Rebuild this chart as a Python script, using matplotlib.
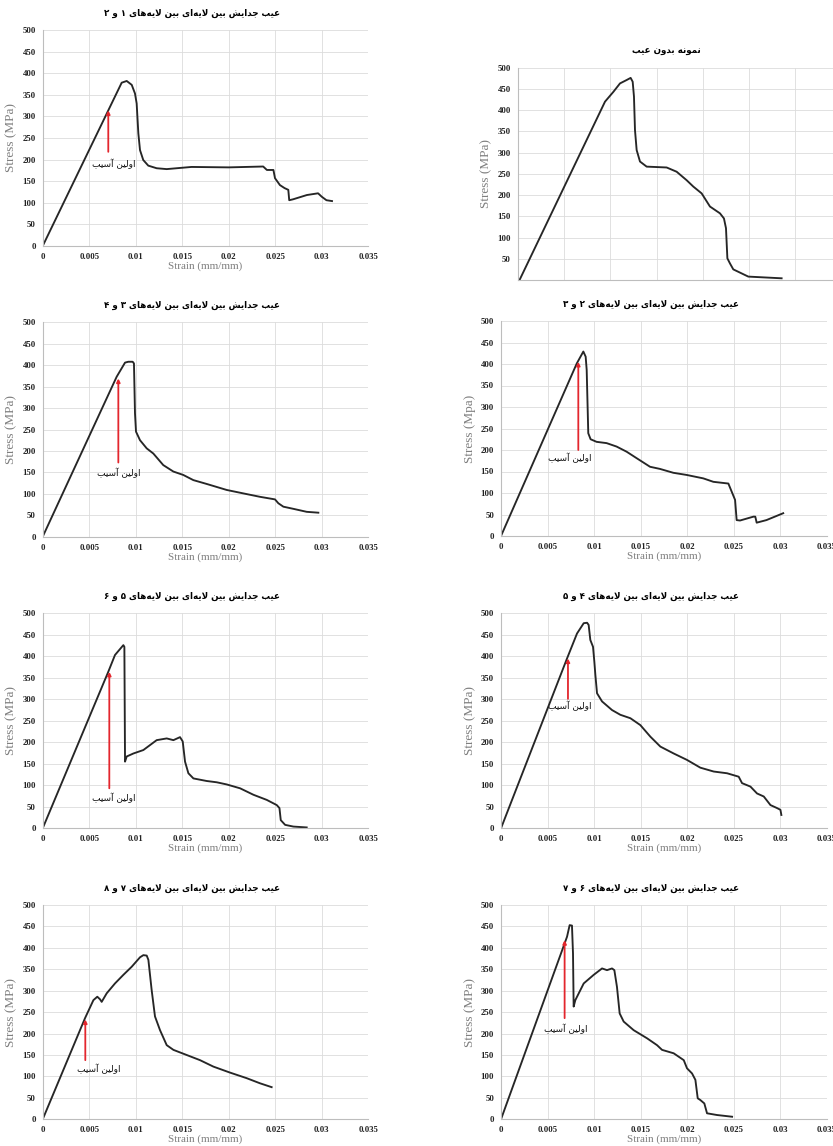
import matplotlib
matplotlib.use("Agg")
import matplotlib.pyplot as plt

plt.rcParams['font.family'] = ['Liberation Serif', 'DejaVu Sans']

# stress-strain curves, strain in mm/mm, stress in MPa
strain_12 = [0, 0.00849, 0.00903, 0.00957, 0.00992, 0.0101, 0.01028, 0.01046, 0.01081, 0.01135,
             0.01225, 0.01333, 0.0160, 0.0200, 0.0237, 0.0241, 0.0248, 0.02497, 0.0255, 0.0260,
             0.0264, 0.0265, 0.0269, 0.0284, 0.0296, 0.0300, 0.0305, 0.0311]
stress_12 = [0, 378, 382, 373, 353, 330, 261, 222, 199, 186,
             180, 178, 183, 182, 184, 176, 176, 157, 141, 134,
             130, 106, 108, 118, 122, 114, 106, 104]

strain_ok = [0.0002, 0.00943, 0.01033, 0.01105, 0.01177, 0.0122, 0.01242, 0.01256, 0.01267, 0.01285,
             0.01321, 0.01393, 0.01609, 0.01717, 0.01825, 0.01897, 0.01987, 0.02077, 0.02185, 0.02228,
             0.0225, 0.02265, 0.02293, 0.02329, 0.02491, 0.02851]
stress_ok = [0, 420, 443, 463, 471, 476, 467, 432, 353, 306,
             279, 267, 265, 255, 235, 220, 204, 173, 157, 145,
             122, 51, 39, 25, 8, 4]

strain_34 = [0, 0.00795, 0.00885, 0.0092, 0.00967, 0.00981, 0.00992, 0.01003, 0.01046, 0.01118,
             0.01189, 0.01296, 0.01404, 0.01511, 0.01619, 0.01763, 0.01978, 0.02156, 0.02336, 0.02497,
             0.02533, 0.02587, 0.02694, 0.02838, 0.02963]
stress_34 = [0, 373, 406, 408, 408, 404, 288, 245, 225, 206,
             194, 167, 152, 144, 132, 123, 109, 101, 93, 87,
             78, 70, 65, 58, 56]

strain_23 = [0, 0.00813, 0.00884, 0.00909, 0.0092, 0.00937, 0.00962, 0.01026, 0.01134, 0.01241,
             0.01349, 0.01456, 0.0160, 0.01707, 0.0185, 0.01993, 0.02172, 0.0228, 0.02441, 0.02477,
             0.02513, 0.0253, 0.02566, 0.0271, 0.0273, 0.02745, 0.0285, 0.0303]
stress_23 = [0, 401, 429, 417, 386, 239, 225, 219, 216, 208,
             196, 181, 161, 156, 147, 142, 134, 126, 122, 103,
             84, 37, 36, 45, 45, 31, 37, 53]

strain_56 = [0, 0.00705, 0.00777, 0.00867, 0.00878, 0.00885, 0.00903, 0.00975, 0.01082, 0.01225,
             0.01333, 0.01405, 0.01476, 0.01505, 0.0153, 0.01566, 0.0162, 0.01763, 0.01871, 0.01978,
             0.02122, 0.02265, 0.02409, 0.02516, 0.02545, 0.02559, 0.02606, 0.02695, 0.02838]
stress_56 = [0, 364, 403, 426, 422, 155, 167, 174, 182, 205,
             209, 205, 212, 202, 155, 128, 116, 110, 107, 102,
             93, 78, 66, 54, 47, 19, 8, 4, 2]

strain_45 = [0, 0.00709, 0.00816, 0.00888, 0.00924, 0.00941, 0.00959, 0.00988, 0.01002, 0.01013,
             0.01031, 0.01085, 0.01192, 0.01281, 0.01389, 0.01496, 0.01604, 0.01711, 0.01854, 0.01997,
             0.0214, 0.02284, 0.02427, 0.02552, 0.02588, 0.02678, 0.02749, 0.02821, 0.02893, 0.02964,
             0.0300, 0.0301]
stress_45 = [0, 395, 453, 477, 478, 473, 438, 422, 388, 357,
             314, 295, 275, 264, 256, 240, 213, 190, 174, 159,
             141, 132, 128, 120, 105, 97, 81, 74, 54, 47,
             43, 31]

strain_78 = [0, 0.00455, 0.00545, 0.00587, 0.00616, 0.00634, 0.00688, 0.00777, 0.00867, 0.00957,
             0.01046, 0.01082, 0.01118, 0.01136, 0.01171, 0.01207, 0.01261, 0.01333, 0.01405, 0.01548,
             0.01691, 0.01834, 0.02013, 0.02192, 0.02336, 0.02461]
stress_78 = [0, 236, 278, 286, 280, 274, 294, 317, 337, 356,
             378, 383, 382, 372, 302, 240, 208, 173, 162, 150,
             138, 123, 109, 96, 84, 75]

strain_67 = [0, 0.00709, 0.00737, 0.00762, 0.00773, 0.0078, 0.00798, 0.00888, 0.00995, 0.01085,
             0.01138, 0.01192, 0.01217, 0.01245, 0.01274, 0.01317, 0.01424, 0.01568, 0.01675, 0.01729,
             0.01854, 0.01962, 0.01997, 0.02051, 0.02087, 0.02112, 0.0214, 0.02183, 0.02212, 0.02319,
             0.02481]
stress_67 = [0, 426, 453, 452, 387, 263, 278, 317, 337, 352,
             348, 352, 348, 309, 247, 228, 208, 189, 173, 162,
             154, 138, 119, 107, 92, 49, 45, 37, 14, 10,
             6]

# first-damage arrows: strain, tail stress, head stress, label strain, label stress
damage_12 = [0.00705, 218, 314, 0.0076, 190]
damage_34 = [0.00813, 173, 369, 0.00813, 148]
damage_23 = [0.0083, 200, 405, 0.0074, 181]
damage_56 = [0.00716, 93, 364, 0.0076, 71]
damage_45 = [0.00719, 301, 395, 0.0074, 284]
damage_78 = [0.00458, 138, 233, 0.0060, 117]
damage_67 = [0.00683, 236, 418, 0.0069, 210]

x_ticks = [0, 0.005, 0.01, 0.015, 0.02, 0.025, 0.03, 0.035]
x_tick_labels = ['0', '0.005', '0.01', '0.015', '0.02', '0.025', '0.03', '0.035']
y_ticks = [0, 50, 100, 150, 200, 250, 300, 350, 400, 450, 500]

title_fmt = 'عیب جدایش بین لایه‌ای بین لایه‌های {} و {}'
title_ok = 'نمونه بدون عیب'
damage_text = 'اولین آسیب'

# Arabic presentation forms: isolated, final, initial, medial
FORMS = {
    'ا': ('\uFE8D', '\uFE8E', None, None),
    'آ': ('\uFE81', '\uFE82', None, None),
    'ب': ('\uFE8F', '\uFE90', '\uFE91', '\uFE92'),
    'ج': ('\uFE9D', '\uFE9E', '\uFE9F', '\uFEA0'),
    'د': ('\uFEA9', '\uFEAA', None, None),
    'س': ('\uFEB1', '\uFEB2', '\uFEB3', '\uFEB4'),
    'ش': ('\uFEB5', '\uFEB6', '\uFEB7', '\uFEB8'),
    'ع': ('\uFEC9', '\uFECA', '\uFECB', '\uFECC'),
    'ل': ('\uFEDD', '\uFEDE', '\uFEDF', '\uFEE0'),
    'م': ('\uFEE1', '\uFEE2', '\uFEE3', '\uFEE4'),
    'ن': ('\uFEE5', '\uFEE6', '\uFEE7', '\uFEE8'),
    'ه': ('\uFEE9', '\uFEEA', '\uFEEB', '\uFEEC'),
    'و': ('\uFEED', '\uFEEE', None, None),
    'ی': ('\uFEEF', '\uFEF0', '\uFEF3', '\uFEF4'),
    '\uFEFB': ('\uFEFB', '\uFEFC', None, None),
}


def shape(text):
    # join letters by hand and flip to visual order, matplotlib has no RTL layout
    text = text.replace('\u200c', '|').replace('لا', '\uFEFB')
    out = []
    for i, ch in enumerate(text):
        if ch not in FORMS:
            out.append(ch)
            continue
        prev = text[i - 1] if i > 0 else ''
        nxt = text[i + 1] if i + 1 < len(text) else ''
        iso, fin, ini, med = FORMS[ch]
        jp = prev in FORMS and FORMS[prev][2] is not None
        jn = ini is not None and nxt in FORMS
        if jp and jn:
            out.append(med)
        elif jp:
            out.append(fin)
        elif jn:
            out.append(ini)
        else:
            out.append(iso)
    return ''.join(c for c in reversed(out) if c != '|')


W, H = 833, 1146
fig = plt.figure(figsize=(W / 100, H / 100), dpi=100)


def make_axes(left, top, width, height):
    return fig.add_axes([left / W, 1 - (top + height) / H, width / W, height / H])


def draw(ax, strain, stress, title, damage=None, ylabel='Stress (MPa)', show_x=True):
    ax.plot(strain, stress, color='#262626', lw=1.35, solid_joinstyle='round')
    ax.set_xlim(0, 0.035)
    ax.set_ylim(0, 500)
    ax.set_xticks(x_ticks)
    ax.set_yticks(y_ticks)
    if show_x:
        ax.set_xticklabels(x_tick_labels)
        ax.set_xlabel('Strain (mm/mm)', color='#7f7f7f', fontsize=8)
        ax.xaxis.set_label_coords(0.5, -0.072)
    else:
        ax.set_xticklabels([])
        ax.set_yticks(y_ticks[1:])
    ax.set_ylabel(ylabel, color='#7f7f7f', fontsize=9.5)
    ax.yaxis.set_label_coords(-0.077, 0.5)
    ax.grid(color='#dcdcdc', lw=0.6)
    ax.set_axisbelow(True)
    for s in ['top', 'right']:
        ax.spines[s].set_visible(False)
    for s in ['left', 'bottom']:
        ax.spines[s].set_color('#bdbdbd')
        ax.spines[s].set_linewidth(0.8)
    ax.tick_params(length=0, labelsize=6.3, pad=5)
    for lbl in ax.get_xticklabels() + ax.get_yticklabels():
        lbl.set_fontweight('bold')
        lbl.set_color('#222222')
    ax.annotate(shape(title), xy=(0.46, 1), xycoords='axes fraction',
                xytext=(0, 12), textcoords='offset points', ha='center', va='center',
                family='DejaVu Sans', fontweight='bold', fontsize=6.3)
    if damage is not None:
        x, y0, y1, tx, ty = damage
        ax.annotate('', xy=(x, y1), xytext=(x, y0),
                    arrowprops=dict(arrowstyle='-|>', color='#e3262d', lw=1.3,
                                    mutation_scale=5, shrinkA=0, shrinkB=0))
        ax.text(tx, ty, shape(damage_text), family='DejaVu Sans', fontsize=6.5,
                ha='center', va='center', color='#111111')


ax1 = make_axes(42.7, 30, 325.6, 216)
draw(ax1, strain_12, stress_12, title_fmt.format('۱', '۲'), damage_12)

ax2 = make_axes(517.7, 67.7, 324, 212.3)
draw(ax2, strain_ok, stress_ok, title_ok, show_x=False)

ax3 = make_axes(42.7, 322.3, 325.6, 214.4)
draw(ax3, strain_34, stress_34, title_fmt.format('۳', '۴'), damage_34)

ax4 = make_axes(501, 321, 326, 215)
draw(ax4, strain_23, stress_23, title_fmt.format('۲', '۳'), damage_23, ylabel='Stress (Mpa)')

ax5 = make_axes(42.7, 613.3, 325.6, 215)
draw(ax5, strain_56, stress_56, title_fmt.format('۵', '۶'), damage_56)

ax6 = make_axes(501, 613.3, 326, 215)
draw(ax6, strain_45, stress_45, title_fmt.format('۴', '۵'), damage_45)

ax7 = make_axes(42.7, 905, 325.6, 214.3)
draw(ax7, strain_78, stress_78, title_fmt.format('۷', '۸'), damage_78)

ax8 = make_axes(501, 905, 326, 214.3)
draw(ax8, strain_67, stress_67, title_fmt.format('۶', '۷'), damage_67)

fig.savefig('out.png', dpi=100, facecolor='white')
